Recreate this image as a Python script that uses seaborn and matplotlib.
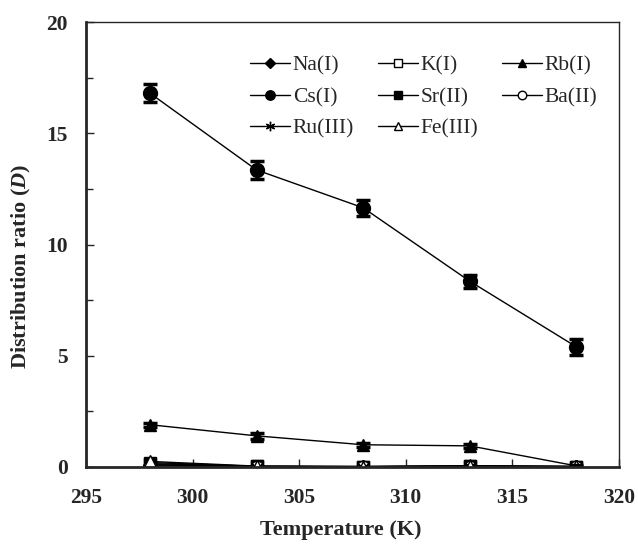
import numpy as np
import pandas as pd
import matplotlib
matplotlib.use("Agg")
import matplotlib.pyplot as plt
import seaborn as sns

temps = [298, 303, 308, 313, 318]
na = [0.10, 0.02, 0.01, 0.02, 0.01]
k = [0.20, 0.03, 0.02, 0.05, 0.02]
rb = [1.90, 1.40, 1.00, 0.95, 0.05]
cs = [16.8, 13.35, 11.65, 8.35, 5.4]
sr = [0.15, 0.03, 0.02, 0.04, 0.02]
ba = [0.05, 0.02, 0.01, 0.02, 0.01]
ru = [0.10, 0.02, 0.01, 0.03, 0.01]
fe = [0.25, 0.04, 0.02, 0.06, 0.03]
cs_err = [0.40, 0.40, 0.35, 0.30, 0.35]
rb_err = [0.10, 0.15, 0.08, 0.08, 0.05]

labels = ["Na(I)", "K(I)", "Rb(I)", "Cs(I)", "Sr(II)", "Ba(II)", "Ru(III)", "Fe(III)"]
series = [na, k, rb, cs, sr, ba, ru, fe]
markers = ["D", "s", "^", "o", "s", "o", (6, 2, 0), "^"]
faces = ["black", "white", "black", "black", "black", "white", "black", "white"]
sizes = [7, 9, 9, 10, 9, 9, 10, 9]

sns.set_style("ticks")
plt.rcParams["font.family"] = ["Liberation Serif", "DejaVu Serif"]
plt.rcParams["mathtext.fontset"] = "custom"
plt.rcParams["mathtext.rm"] = "Liberation Serif:weight=bold"
plt.rcParams["mathtext.it"] = "Liberation Serif:style=italic:weight=bold"
plt.rcParams["mathtext.bf"] = "Liberation Serif:weight=bold"

fig = plt.figure(figsize=(6.38, 5.45), dpi=100)
ax = fig.add_axes([86 / 638, 1 - 467 / 545, (619 - 86) / 638, (467 - 22) / 545])

df = pd.DataFrame({"T": temps * len(labels),
                   "D": np.concatenate(series),
                   "ion": np.repeat(labels, len(temps))})

handles = {}
for lab, m, fc, ms in zip(labels, markers, faces, sizes):
    sub = df[df["ion"] == lab]
    sns.lineplot(data=sub, x="T", y="D", ax=ax, color="black", lw=1,
                 marker=m, mfc=fc, mec="black", ms=ms, mew=1,
                 legend=False)
    handles[lab] = plt.Line2D([], [], color="black", lw=1, marker=m, mfc=fc,
                              mec="black", ms=ms * 0.68, mew=1)

ax.errorbar(temps, cs, yerr=cs_err, fmt="none", ecolor="black", elinewidth=2,
            capsize=5, capthick=2.5)
ax.errorbar(temps, rb, yerr=rb_err, fmt="none", ecolor="black", elinewidth=2,
            capsize=5, capthick=2.5)

ax.set_xlim(295, 320)
ax.set_ylim(0, 20)
ax.set_xticks([295, 300, 305, 310, 315, 320])
ax.set_yticks([0, 5, 10, 15, 20])
ax.set_yticks([2.5, 7.5, 12.5, 17.5], minor=True)
ax.tick_params(direction="in", length=6, width=1, labelsize=15.5)
ax.tick_params(which="minor", direction="in", length=5, width=1)
for t in ax.get_xticklabels() + ax.get_yticklabels():
    t.set_fontweight("bold")
ax.tick_params(axis="x", pad=15)
ax.tick_params(axis="y", pad=13)

ax.set_xlabel("Temperature (K)", fontsize=16, fontweight="bold")
ax.set_ylabel("Distribution ratio ($D$)", fontsize=16, fontweight="bold")
ax.xaxis.set_label_coords(0.478, -0.12)
ax.yaxis.set_label_coords(-0.1, 0.45)

for side in ["left", "bottom"]:
    ax.spines[side].set_linewidth(2)
for side in ["top", "right"]:
    ax.spines[side].set_linewidth(1)
    ax.spines[side].set_visible(True)

order = ["Na(I)", "Cs(I)", "Ru(III)", "K(I)", "Sr(II)", "Fe(III)", "Rb(I)", "Ba(II)"]
ax.legend([handles[o] for o in order], order, ncol=3, frameon=False,
          fontsize=15.5, loc="upper left", bbox_to_anchor=(0.308, 0.924),
          handlelength=1.86, handletextpad=0.12, columnspacing=1.1,
          labelspacing=0.52, borderaxespad=0, borderpad=0)

fig.savefig("out.png", dpi=100)
